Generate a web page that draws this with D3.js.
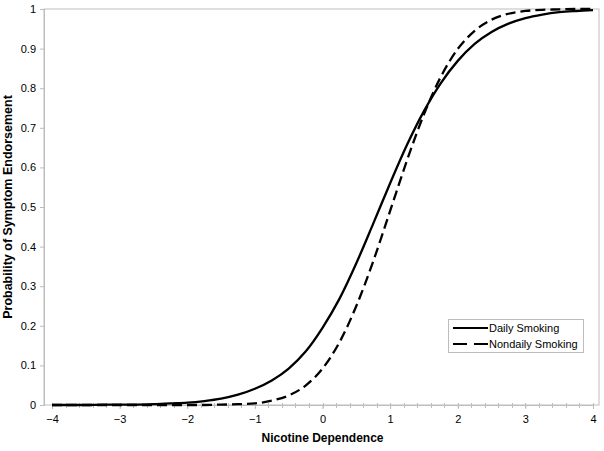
<!DOCTYPE html>
<html>
<head>
<meta charset="utf-8">
<script src="https://cdn.jsdelivr.net/npm/d3@7"></script>
<style>
  body { margin: 0; background: #fff; }
  svg { font-family: "Liberation Sans", Arial, sans-serif; }
  .tick text { font-size: 11px; fill: #000; }
  .title { font-size: 12px; font-weight: bold; }
</style>
</head>
<body>
<svg id="chart" width="604" height="451"></svg>
<script>
// theta values (nicotine dependence), step 0.25
const theta = [
  -4, -3.75, -3.5, -3.25, -3, -2.75, -2.5, -2.25, -2, -1.75, -1.5, -1.25, -1,
  -0.75, -0.5, -0.25, 0, 0.25, 0.5, 0.75, 1, 1.25, 1.5, 1.75, 2, 2.25, 2.5,
  2.75, 3, 3.25, 3.5, 3.75, 4
];
const daily = [
  0.000, 0.000, 0.000, 0.001, 0.001, 0.001, 0.002, 0.004, 0.006, 0.010, 0.016,
  0.026, 0.041, 0.062, 0.092, 0.135, 0.195, 0.268, 0.358, 0.458, 0.560, 0.657,
  0.742, 0.813, 0.869, 0.912, 0.942, 0.963, 0.977, 0.986, 0.992, 0.995, 0.997
];
const nondaily = [
  0.000, 0.000, 0.000, 0.000, 0.000, 0.000, 0.000, 0.000, 0.000, 0.000, 0.001,
  0.002, 0.004, 0.011, 0.024, 0.049, 0.092, 0.158, 0.250, 0.363, 0.490, 0.618,
  0.734, 0.829, 0.899, 0.945, 0.973, 0.988, 0.995, 0.998, 0.999, 1.000, 1.000
];
const xTicks = [-4, -3, -2, -1, 0, 1, 2, 3, 4];
const yTicks = [0, 0.1, 0.2, 0.3, 0.4, 0.5, 0.6, 0.7, 0.8, 0.9, 1];
const seriesNames = ["Daily Smoking", "Nondaily Smoking"];

const svg = d3.select("#chart");
const plot = { left: 44, right: 599, top: 9, bottom: 405 };

const xScale = d3.scaleLinear().domain([-4, 4]).range([52, 593]);
const yScale = d3.scaleLinear().domain([0, 1]).range([plot.bottom, plot.top]);

// plot area border
svg.append("rect")
  .attr("x", plot.left)
  .attr("y", plot.top)
  .attr("width", plot.right - plot.left)
  .attr("height", plot.bottom - plot.top)
  .attr("fill", "none")
  .attr("stroke", "#bdbdbd")
  .attr("stroke-width", 1);

// minor ticks on x axis
const minorTicks = d3.range(0, 41).map((i) => -4 + i * 0.2);
svg.append("g")
  .selectAll("line")
  .data(minorTicks)
  .join("line")
  .attr("x1", (d) => Math.round(xScale(d)) + 0.5)
  .attr("x2", (d) => Math.round(xScale(d)) + 0.5)
  .attr("y1", plot.bottom - 2)
  .attr("y2", plot.bottom + 3)
  .attr("stroke", "#bdbdbd");

const xAxis = svg.append("g")
  .attr("transform", `translate(0,${plot.bottom})`)
  .call(d3.axisBottom(xScale).tickValues(xTicks).tickSize(4).tickPadding(6).tickFormat(d3.format("d")));
xAxis.select(".domain").attr("stroke", "#bdbdbd");
xAxis.selectAll(".tick line").attr("stroke", "#bdbdbd");

const yAxis = svg.append("g")
  .attr("transform", `translate(${plot.left},0)`)
  .call(d3.axisLeft(yScale).tickValues(yTicks).tickSize(4).tickPadding(4)
    .tickFormat((d) => (d === 0 || d === 1 ? d3.format("d")(d) : d3.format(".1f")(d))));
yAxis.select(".domain").attr("stroke", "#bdbdbd");
yAxis.selectAll(".tick line").attr("stroke", "#bdbdbd");

// curves
const line = (vals) => d3.line()
  .x((d, i) => xScale(theta[i]))
  .y((d) => yScale(d))
  .curve(d3.curveMonotoneX)(vals);

svg.append("path")
  .attr("d", line(daily))
  .attr("fill", "none")
  .attr("stroke", "#000")
  .attr("stroke-width", 2.3);

svg.append("path")
  .attr("d", line(nondaily))
  .attr("fill", "none")
  .attr("stroke", "#000")
  .attr("stroke-width", 2.3)
  .attr("stroke-dasharray", "10,5");

// axis titles
svg.append("text")
  .attr("class", "title")
  .attr("x", xScale(0))
  .attr("y", 442)
  .attr("text-anchor", "middle")
  .text("Nicotine Dependence");

svg.append("text")
  .attr("class", "title")
  .style("font-size", "12.5px")
  .attr("transform", `translate(12,${(plot.top + plot.bottom) / 2}) rotate(-90)`)
  .attr("text-anchor", "middle")
  .text("Probability of Symptom Endorsement");

// legend
const legend = svg.append("g").attr("transform", "translate(448,319)");
legend.append("rect")
  .attr("x", 0.5)
  .attr("y", 0.5)
  .attr("width", 135)
  .attr("height", 33)
  .attr("fill", "#fff")
  .attr("stroke", "#bdbdbd");

seriesNames.forEach((name, i) => {
  const y = 9 + i * 16;
  legend.append("line")
    .attr("x1", 5)
    .attr("x2", 40)
    .attr("y1", y)
    .attr("y2", y)
    .attr("stroke", "#000")
    .attr("stroke-width", 2.2)
    .attr("stroke-dasharray", i === 1 ? "14,7" : null);
  legend.append("text")
    .attr("x", 41)
    .attr("y", y + 4)
    .style("font-size", "11px")
    .text(name);
});
</script>
</body>
</html>
